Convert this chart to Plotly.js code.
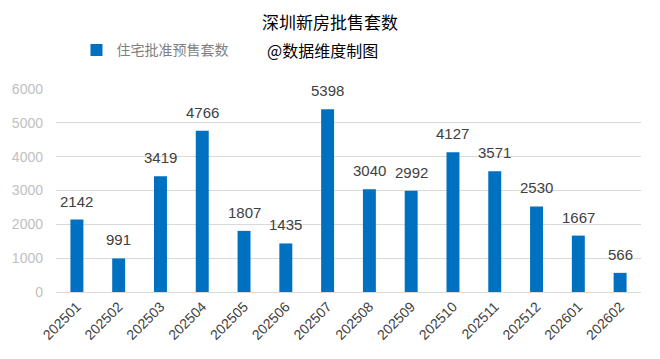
<!DOCTYPE html>
<html><head><meta charset="utf-8">
<script src="https://cdn.plot.ly/plotly-3.0.1.min.js"></script>
<style>html,body{margin:0;padding:0;background:#fff}#c{width:660px;height:359px}</style>
</head><body><div id="c"></div>
<script>
const months = ["202501","202502","202503","202504","202505","202506","202507","202508","202509","202510","202511","202512","202601","202602"];
const units = [2142,991,3419,4766,1807,1435,5398,3040,2992,4127,3571,2530,1667,566];
const yTicks = [0,1000,2000,3000,4000,5000,6000];
const FONT = '"Noto Sans CJK SC", "Liberation Sans", sans-serif';
const NUM = '"Liberation Sans", Arial, sans-serif';
const labelAnns = months.map((m,i)=>({x:i, y:units[i], xref:'x', yref:'y', text:String(units[i]),
  showarrow:false, yanchor:'bottom', yshift:8, font:{family:NUM,size:15,color:'#404040'}}));
Plotly.newPlot('c', [{
  type:'bar', x:months, y:units, name:'住宅批准预售套数',
  marker:{color:'#0070C0'}
}], {
  width:660, height:359,
  margin:{l:56,r:19,t:89,b:67},
  paper_bgcolor:'#fff', plot_bgcolor:'#fff',
  bargap:0.69,
  showlegend:true,
  legend:{orientation:'h', x:0.035, xanchor:'left', y:1.19, yanchor:'middle',
    font:{family:FONT,size:14,color:'#7f7f7f'}, itemwidth:30},
  title:{text:'深圳新房批售套数', x:0.5, xanchor:'center', y:0.936, yanchor:'middle',
    font:{family:FONT,size:17,color:'#000'}},
  annotations:[{text:'@数据维度制图', xref:'paper', yref:'paper', x:0.455, xanchor:'center',
    y:1.19, yanchor:'middle', showarrow:false, font:{family:FONT,size:16,color:'#000'}}].concat(labelAnns),
  xaxis:{type:'category', tickangle:-45, tickfont:{family:NUM,size:14,color:'#404040'},
    showline:true, linecolor:'#d9d9d9', ticks:''},
  yaxis:{range:[0,6000], tickvals:yTicks, ticktext:yTicks.map(String), gridcolor:'#d9d9d9',
    tickfont:{family:NUM,size:14,color:'#bfbfbf'}, zeroline:false, ticks:'', ticklabelstandoff:12},
  font:{family:FONT}
}, {displayModeBar:false, staticPlot:true});
</script></body></html>
